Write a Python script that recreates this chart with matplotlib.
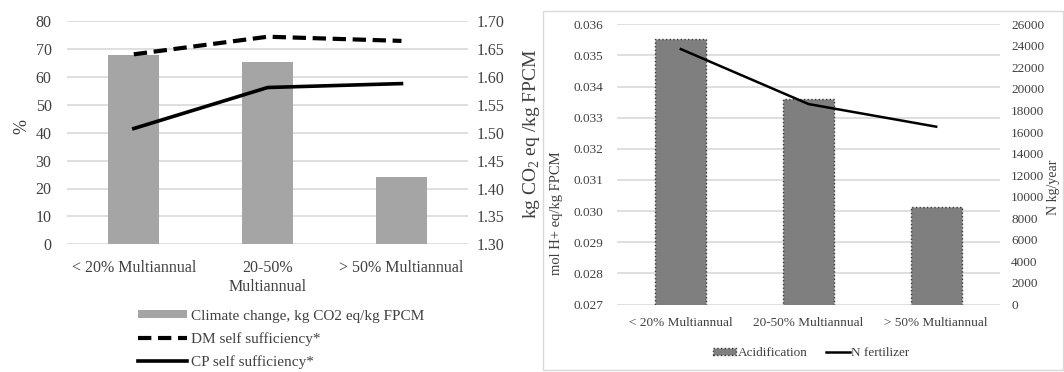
import matplotlib
matplotlib.use("Agg")
import matplotlib.pyplot as plt
from matplotlib.patches import Rectangle
from matplotlib.ticker import FormatStrFormatter, MultipleLocator

plt.rcParams['font.family'] = ['Liberation Serif', 'DejaVu Serif']
plt.rcParams['mathtext.fontset'] = 'custom'
plt.rcParams['mathtext.rm'] = 'Liberation Serif'

# ---------------- data ----------------
left_categories = ["< 20% Multiannual", "20-50%\nMultiannual", "> 50% Multiannual"]
climate_change = [1.639, 1.627, 1.420]          # kg CO2 eq / kg FPCM (right axis)
dm_self_sufficiency = [68.1, 74.4, 72.9]         # %
cp_self_sufficiency = [41.5, 56.2, 57.6]         # %

right_categories = ["< 20% Multiannual", "20-50% Multiannual", "> 50% Multiannual"]
acidification = [0.03552, 0.03361, 0.03013]      # mol H+ eq / kg FPCM
n_fertilizer = [23700, 18600, 16500]             # N kg/year

W, H = 1064, 372
fig = plt.figure(figsize=(W / 100, H / 100), dpi=100)


def box(x0, y0, x1, y1):
    return [x0 / W, 1 - y1 / H, (x1 - x0) / W, (y1 - y0) / H]


grid_c = '#d9d9d9'
txt_c = '#404040'

# ---------------- left chart ----------------
axL = fig.add_axes(box(66.9, 21.1, 468.4, 244.3))
axL2 = axL.twinx()
xl = list(range(len(left_categories)))

bars_l = axL2.bar(xl, climate_change, width=0.38, color='#a5a5a5', zorder=2,
                  label='Climate change, kg CO2 eq/kg FPCM')
axL2.set_ylim(1.30, 1.70)
axL2.yaxis.set_major_locator(MultipleLocator(0.05))
axL2.yaxis.set_major_formatter(FormatStrFormatter('%.2f'))
axL2.grid(axis='y', color=grid_c, lw=1.2)
axL2.set_axisbelow(True)

l_dm, = axL.plot(xl, dm_self_sufficiency, color='black', lw=3.0, ls='--',
                 dashes=(3.2, 1.6), label='DM self sufficiency*', zorder=3)
l_cp, = axL.plot(xl, cp_self_sufficiency, color='black', lw=2.6,
                 label='CP self sufficiency*', zorder=3)
axL.set_ylim(0, 80)
axL.yaxis.set_major_locator(MultipleLocator(10))
axL.set_xlim(-0.5, 2.5)
axL.set_xticks(xl)
axL.set_xticklabels(left_categories, fontsize=11.5, color=txt_c, linespacing=1.3)
axL.set_zorder(axL2.get_zorder() + 1)
axL.patch.set_visible(False)

for a in (axL, axL2):
    for s in a.spines.values():
        s.set_visible(False)
axL.tick_params(axis='both', length=0, labelsize=11.5, labelcolor=txt_c)
axL.tick_params(axis='y', pad=11)
axL.tick_params(axis='x', pad=11)
axL2.tick_params(axis='y', length=0, labelsize=11.5, labelcolor=txt_c, pad=6)

fig.text(22 / W, 1 - 127 / H, '%', rotation=90, ha='center', va='center',
         fontsize=13, color=txt_c)
fig.text(531 / W, 1 - 134 / H, r'kg CO$_\mathregular{2}$ eq /kg FPCM', rotation=90,
         ha='center', va='center', fontsize=14, color=txt_c)

fig.legend(handles=[bars_l, l_dm, l_cp], loc='upper left',
           bbox_to_anchor=(130 / W, 1 - 302 / H), frameon=False,
           fontsize=11, handlelength=3.2, handleheight=0.45,
           handletextpad=0.3, labelspacing=0.6, borderpad=0,
           labelcolor=txt_c)

# ---------------- right chart ----------------
fig.patches.append(Rectangle((542.6 / W, 1 - 370 / H), (1063 - 542.6) / W,
                             (370 - 10.5) / H, transform=fig.transFigure,
                             fill=False, edgecolor='#d9d9d9', lw=1.0))

axR = fig.add_axes(box(617, 24.3, 1000, 304.5))
xr = list(range(len(right_categories)))
bars_r = axR.bar(xr, acidification, width=0.40, color='#7f7f7f',
                 edgecolor='#3a3a3a', linestyle=':', lw=1.0, zorder=2,
                 label='Acidification')
axR.set_ylim(0.027, 0.036)
axR.yaxis.set_major_locator(MultipleLocator(0.001))
axR.yaxis.set_major_formatter(FormatStrFormatter('%.3f'))
axR.grid(axis='y', color=grid_c, lw=1.2)
axR.set_axisbelow(True)
axR.set_xlim(-0.5, 2.5)
axR.set_xticks(xr)
axR.set_xticklabels(right_categories, fontsize=9.5, color=txt_c)

axR2 = axR.twinx()
l_n, = axR2.plot(xr, n_fertilizer, color='black', lw=1.8, label='N fertilizer', zorder=3)
axR2.set_ylim(0, 26000)
axR2.yaxis.set_major_locator(MultipleLocator(2000))

for a in (axR, axR2):
    for s in a.spines.values():
        s.set_visible(False)
axR.tick_params(axis='both', length=0, labelsize=9.5, labelcolor=txt_c)
axR.tick_params(axis='y', pad=10)
axR.tick_params(axis='x', pad=9)
axR2.tick_params(axis='y', length=0, labelsize=9.5, labelcolor=txt_c, pad=8)

fig.text(556 / W, 1 - 213 / H, 'mol H+ eq/kg FPCM', rotation=90, ha='center',
         va='center', fontsize=10.5, color=txt_c)
fig.text(1053 / W, 1 - 187 / H, 'N kg/year', rotation=90, ha='center',
         va='center', fontsize=10, color=txt_c)

fig.legend(handles=[bars_r, l_n], loc='center', ncol=2,
           bbox_to_anchor=(811 / W, 1 - 353 / H), frameon=False,
           fontsize=9.5, handlelength=1.8, handleheight=0.5,
           handletextpad=0.1, columnspacing=1.4, borderpad=0,
           labelcolor=txt_c)

fig.savefig('out.png', dpi=100)
